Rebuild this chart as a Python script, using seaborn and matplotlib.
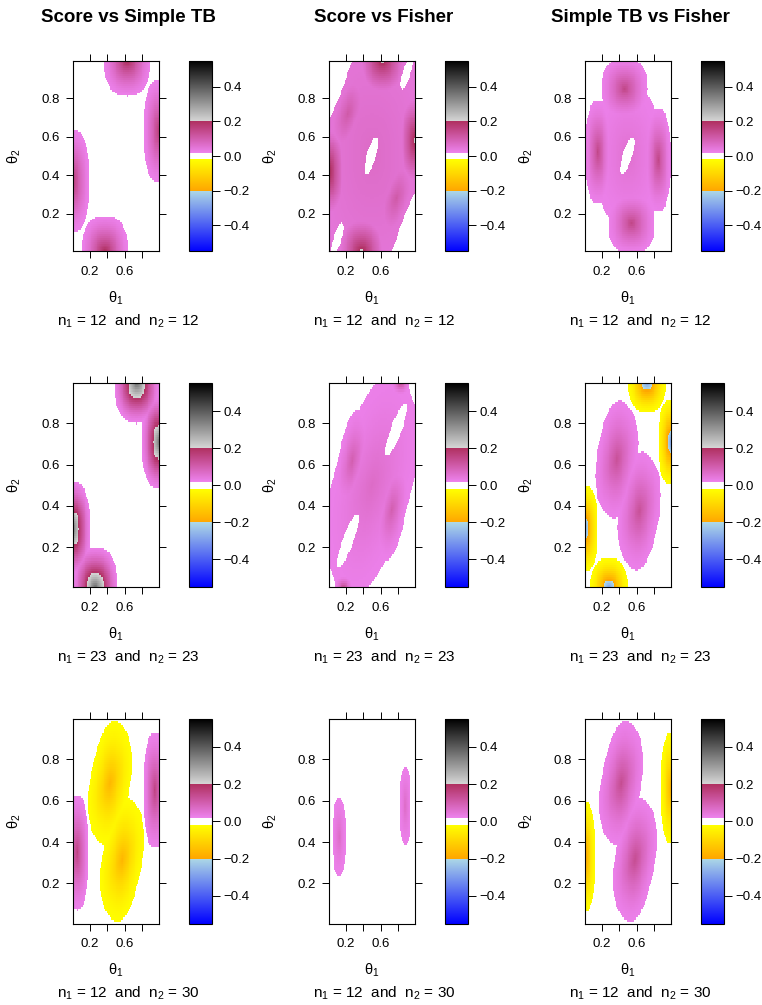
import numpy
import matplotlib.pyplot as pyplot
import seaborn
from matplotlib.colors import ListedColormap

# style
seaborn.set_style("white")
pyplot.rcParams["font.family"] = ["Liberation Sans", "DejaVu Sans"]
pyplot.rcParams["mathtext.fontset"] = "custom"
pyplot.rcParams["mathtext.rm"] = "Liberation Sans"
pyplot.rcParams["mathtext.it"] = "Liberation Sans"
pyplot.rcParams["mathtext.bf"] = "Liberation Sans:bold"
pyplot.rcParams["text.color"] = "black"
pyplot.rcParams["xtick.color"] = "black"
pyplot.rcParams["ytick.color"] = "black"

# panels: columns are the test pairs, rows the sample sizes
titles = ["Score vs Simple TB", "Score vs Fisher", "Simple TB vs Fisher"]
n1_sizes = [12, 23, 12]
n2_sizes = [12, 23, 30]

# theta grid of the power difference maps
theta = numpy.round(numpy.arange(1, 100) / 100, 2)

# regions of power difference:
# (theta1 centre, theta2 centre, radius along axis, radius across, tilt deg, peak difference)
# a peak of 0 marks a region with no difference
score_simple_12 = [
    (0.63, 1.00, 0.27, 0.19, 0, 0.21),
    (1.00, 0.63, 0.18, 0.27, 0, 0.17),
    (0.00, 0.37, 0.19, 0.27, 0, 0.17),
    (0.37, 0.00, 0.27, 0.19, 0, 0.21),
]
score_fisher_12 = [
    (0.50, 0.50, 1.50, 1.50, 0, 0.07),
    (0.62, 1.00, 0.32, 0.22, 0, 0.22),
    (0.38, 0.00, 0.32, 0.22, 0, 0.22),
    (0.00, 0.42, 0.22, 0.28, 0, 0.22),
    (1.00, 0.58, 0.22, 0.28, 0, 0.22),
    (0.22, 0.72, 0.34, 0.20, 45, 0.11),
    (0.78, 0.28, 0.34, 0.20, 45, 0.11),
    (-0.014, 0.973, 0.60, 0.21, 50, 0),
    (1.014, 0.027, 0.60, 0.21, 50, 0),
    (0.90, 0.93, 0.10, 0.04, 50, 0),
    (0.10, 0.07, 0.10, 0.04, 50, 0),
    (0.49, 0.50, 0.115, 0.045, 55, 0),
]
simple_fisher_12 = [
    (0.50, 0.50, 0.37, 0.37, 0, 0.06),
    (0.46, 0.85, 0.27, 0.16, 0, 0.15),
    (0.54, 0.15, 0.27, 0.16, 0, 0.15),
    (0.15, 0.52, 0.145, 0.27, 0, 0.15),
    (0.85, 0.48, 0.145, 0.27, 0, 0.15),
    (0.49, 0.50, 0.12, 0.045, 52, 0),
]
score_simple_23 = [
    (0.74, 1.00, 0.26, 0.20, 0, 0.38),
    (1.00, 0.71, 0.20, 0.23, 0, 0.36),
    (0.00, 0.29, 0.20, 0.23, 0, 0.36),
    (0.26, 0.00, 0.26, 0.20, 0, 0.38),
]
score_fisher_23 = [
    (0.50, 0.50, 0.63, 0.37, 45, 0.07),
    (0.27, 0.62, 0.26, 0.15, 60, 0.10),
    (0.73, 0.38, 0.26, 0.15, 60, 0.10),
    (0.83, 1.00, 0.10, 0.06, 0, 0.15),
    (0.17, 0.00, 0.10, 0.06, 0, 0.15),
    (0.78, 0.77, 0.17, 0.05, 46, 0),
    (0.22, 0.23, 0.17, 0.05, 46, 0),
]
simple_fisher_23 = [
    (0.37, 0.625, 0.29, 0.22, 62, 0.13),
    (0.63, 0.375, 0.29, 0.22, 62, 0.13),
    (0.72, 1.00, 0.215, 0.15, 0, -0.30),
    (1.00, 0.71, 0.15, 0.21, 0, -0.30),
    (0.00, 0.29, 0.15, 0.21, 0, -0.30),
    (0.28, 0.00, 0.215, 0.15, 0, -0.30),
]
score_simple_30 = [
    (0.43, 0.685, 0.31, 0.215, 60, -0.17),
    (0.57, 0.315, 0.31, 0.215, 60, -0.17),
    (0.05, 0.35, 0.13, 0.28, 0, 0.16),
    (0.95, 0.65, 0.13, 0.28, 0, 0.16),
]
score_fisher_30 = [
    (0.12, 0.425, 0.075, 0.19, 0, 0.07),
    (0.885, 0.575, 0.065, 0.19, 0, 0.07),
]
simple_fisher_30 = [
    (0.42, 0.685, 0.31, 0.215, 60, 0.14),
    (0.58, 0.315, 0.31, 0.215, 60, 0.14),
    (0.00, 0.33, 0.12, 0.27, 0, -0.23),
    (1.00, 0.66, 0.12, 0.27, 0, -0.19),
]

panels = [
    [score_simple_12, score_fisher_12, simple_fisher_12],
    [score_simple_23, score_fisher_23, simple_fisher_23],
    [score_simple_30, score_fisher_30, simple_fisher_30],
]

EDGE = 0.025  # smallest difference that gets a colour
ROUND = 2.4   # outline exponent of a region (2 = ellipse)


def region_map(regions):
    t1, t2 = numpy.meshgrid(theta, theta)
    pos = numpy.zeros_like(t1)
    neg = numpy.zeros_like(t1)
    blank = numpy.zeros(t1.shape, dtype=bool)
    for cx, cy, rx, ry, tilt, peak in regions:
        a = numpy.deg2rad(tilt)
        dx, dy = t1 - cx, t2 - cy
        u = numpy.abs(dx * numpy.cos(a) + dy * numpy.sin(a)) / rx
        v = numpy.abs(-dx * numpy.sin(a) + dy * numpy.cos(a)) / ry
        if peak == 0:
            blank |= u**2 + v**2 < 1
            continue
        d = (u**ROUND + v**ROUND) ** (1 / ROUND)
        inside = d < 1
        val = numpy.where(inside, EDGE + (abs(peak) - EDGE) * numpy.clip(1 - d, 0, 1) ** 1.5, 0)
        if peak > 0:
            pos = numpy.maximum(pos, val)
        else:
            neg = numpy.maximum(neg, val)
    z = numpy.where(pos >= neg, pos, -neg)
    z[blank] = 0
    return z


# colour scale: blue -> lightblue | orange -> yellow | white | violet -> maroon | grey -> black
vals = numpy.linspace(-0.55, 0.55, 1101)
segments = [
    (-0.55, -0.20, (0.0, 0.0, 1.0), (0.68, 0.85, 0.90)),
    (-0.20, -0.02, (1.0, 0.65, 0.0), (1.0, 1.0, 0.0)),
    (-0.02, 0.02, (1.0, 1.0, 1.0), (1.0, 1.0, 1.0)),
    (0.02, 0.20, (0.93, 0.51, 0.93), (0.69, 0.19, 0.38)),
    (0.20, 0.55, (0.84, 0.84, 0.84), (0.0, 0.0, 0.0)),
]
colors = numpy.ones((len(vals), 3))
for lo, hi, c0, c1 in segments:
    m = (vals >= lo) & (vals <= hi)
    f = ((vals[m] - lo) / (hi - lo))[:, None]
    colors[m] = numpy.array(c0) * (1 - f) + numpy.array(c1) * f
cmap = ListedColormap(colors)

# layout in pixels
W, H = 762, 1005
plot_left = [73.3, 329.3, 585.3]
plot_width = 85.5
cbar_left = [188.7, 445.0, 701.0]
cbar_width = 23.3
row_top = [60.7, 383.3, 719.0]
row_height = [190.6, 204.0, 204.7]


def box(left, top, width, height):
    return [left / W, 1 - (top + height) / H, width / W, height / H]


fig = pyplot.figure(figsize=(W / 100, H / 100), dpi=100)

ticks = [0.2, 0.4, 0.6, 0.8]
tick_pos = [t * 100 - 0.5 for t in ticks]

for r in range(3):
    for c in range(3):
        ax = fig.add_axes(box(plot_left[c], row_top[r], plot_width, row_height[r]))
        cax = fig.add_axes(box(cbar_left[c], row_top[r], cbar_width, row_height[r]))
        z = region_map(panels[r][c])
        seaborn.heatmap(
            z, ax=ax, cmap=cmap, vmin=-0.55, vmax=0.55, cbar_ax=cax,
            xticklabels=False, yticklabels=False, rasterized=True,
        )
        ax.invert_yaxis()
        for s in ax.spines.values():
            s.set_visible(True)
            s.set_linewidth(0.8)
            s.set_color("black")
        ax.set_xticks(tick_pos)
        ax.set_xticklabels(["0.2", "", "0.6", ""])
        ax.set_yticks(tick_pos)
        ax.set_yticklabels(["0.2", "0.4", "0.6", "0.8"], rotation=0)
        ax.tick_params(axis="both", direction="out", length=5, width=0.7,
                       labelsize=9.5, top=True, right=True, bottom=True, left=True,
                       labeltop=False, labelright=False, colors="black")
        ax.tick_params(axis="x", pad=5.5)
        ax.tick_params(axis="y", pad=4.5)
        ax.set_xlabel("")
        ax.set_ylabel("")

        cb = ax.collections[0].colorbar
        cb.set_ticks([-0.4, -0.2, 0.0, 0.2, 0.4])
        cb.set_ticklabels(["\u22120.4", "\u22120.2", "0.0", "0.2", "0.4"])
        cb.outline.set_linewidth(0.8)
        cb.outline.set_edgecolor("black")
        cax.tick_params(direction="out", length=5.8, width=0.7, pad=2.4,
                        labelsize=9.5, colors="black")

        bottom = row_top[r] + row_height[r]
        xc = plot_left[c] + plot_width / 2
        fig.text(xc / W, 1 - (bottom + 47) / H, r"$\theta_1$", ha="center", va="center", fontsize=10.5)
        fig.text((plot_left[c] - 59) / W, 1 - (row_top[r] + row_height[r] / 2) / H,
                 r"$\theta_2$", ha="center", va="center", rotation=90, fontsize=10.5)
        colc = 128 + 256 * c
        fig.text(colc / W, 1 - (bottom + 70) / H,
                 r"n$_1$ = %d  and  n$_2$ = %d" % (n1_sizes[r], n2_sizes[r]),
                 ha="center", va="center", fontsize=11)
        if r == 0:
            fig.text(colc / W, 1 - 17 / H, titles[c], ha="center", va="center",
                     fontsize=13.5, fontweight="bold")

pyplot.savefig("out.png", dpi=100)
